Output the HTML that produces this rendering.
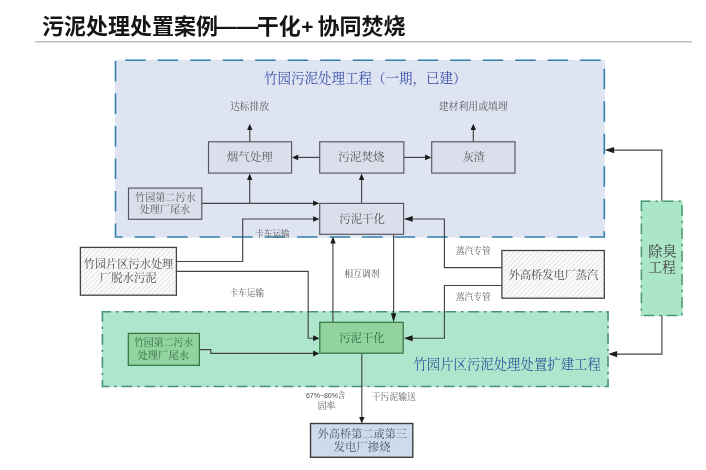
<!DOCTYPE html>
<html lang="zh"><head><meta charset="utf-8"><title>污泥处理处置案例——干化+协同焚烧</title>
<style>
html,body{margin:0;padding:0;background:#fff;}
body{width:706px;height:470px;position:relative;overflow:hidden;font-family:"Liberation Sans",sans-serif;}
.t{position:absolute;color:transparent;white-space:nowrap;line-height:1;font-family:"Liberation Sans",sans-serif;overflow:hidden;}
</style></head><body>
<svg width="706" height="470" viewBox="0 0 706 470" style="position:absolute;left:0;top:0;filter:blur(0.45px)">
<defs>
<pattern id="hb" width="3" height="3" patternUnits="userSpaceOnUse"><rect width="3" height="3" fill="#dee1ee"/><path d="M0 3L3 0M0 0L3 3" stroke="#d6d9e6" stroke-width="0.6"/></pattern>
<pattern id="hw" width="4.85" height="4.85" patternUnits="userSpaceOnUse"><rect width="4.85" height="4.85" fill="#fefefe"/><path d="M-1 1L1 -1M0 4.85L4.85 0M3.85 5.85L5.85 3.85" stroke="#e0e0e0" stroke-width="1.1"/></pattern>
<pattern id="hx" width="3" height="3" patternUnits="userSpaceOnUse"><rect width="3" height="3" fill="#d2dfee"/><path d="M0 3L3 0M0 0L3 3" stroke="#c5d3e6" stroke-width="0.6"/></pattern>
</defs>
<g font-family="'Liberation Sans','Noto Sans CJK SC',sans-serif" font-weight="bold" fill="#151515">
<text x="42" y="34" font-size="22">污泥处理处置案例</text>
<text x="214.4" y="34" font-size="22">——</text>
<text x="256.8" y="34" font-size="22">干化</text>
<text x="307.3" y="34" font-size="21" text-anchor="middle">+</text>
<text x="317.4" y="34" font-size="22">协同焚烧</text>
</g>
<rect x="35" y="41.3" width="657" height="1.1" fill="#a9a9a9"/>
<rect x="115" y="59.8" width="489.8" height="177.7" fill="#dfe4f3"/>
<rect x="115.5" y="60.3" width="488.8" height="176.7" fill="none" stroke="#357fab" stroke-width="1.6" stroke-dasharray="20.5 12" stroke-dashoffset="22.8"/>
<rect x="101.9" y="311.3" width="506.6" height="75.7" fill="#aee6cd"/>
<path d="M102.4 311.8H608V386.5H102.4" fill="none" stroke="#47937a" stroke-width="1.6" stroke-dasharray="10.8 4.9 2.4 4.9" stroke-dashoffset="2.1"/>
<path d="M102.4 311V387.3" fill="none" stroke="#47937a" stroke-width="1.6" stroke-dasharray="10.8 4.9 2.4 4.9" stroke-dashoffset="0"/>
<rect x="640.8" y="200.7" width="41.8" height="115.3" fill="#ace6c9"/>
<path d="M641.4 201.3H682V315.4H641.4" fill="none" stroke="#479a7a" stroke-width="1.5" stroke-dasharray="10.8 4.9 2.4 4.9" stroke-dashoffset="1.6"/>
<path d="M641.4 200.55V316.15" fill="none" stroke="#479a7a" stroke-width="1.5" stroke-dasharray="10.8 4.9 2.4 4.9" stroke-dashoffset="0"/>
<path d="M661.8 201.3 L661.8 150.1 L611.3 150.1" fill="none" stroke="#444" stroke-width="1.15"/>
<polygon points="604.7,150.1 614.1,146.9 614.1,153.3" fill="#1c1c1c"/>
<path d="M661.9 315.4 L661.9 354.1 L615 354.1" fill="none" stroke="#444" stroke-width="1.15"/>
<polygon points="608.1,354.1 617.1,351 617.1,357.2" fill="#1c1c1c"/>
<path d="M249.8 141.8 L249.8 129" fill="none" stroke="#444" stroke-width="1.15"/>
<polygon points="249.8,123.8 247.1,130 252.5,130" fill="#1c1c1c"/>
<path d="M473.3 141.8 L473.3 129" fill="none" stroke="#444" stroke-width="1.15"/>
<polygon points="473.3,123.8 470.6,130 476,130" fill="#1c1c1c"/>
<path d="M319.7 157.4 L296.6 157.4" fill="none" stroke="#444" stroke-width="1.15"/>
<polygon points="292,157.4 298.2,154.6 298.2,160.2" fill="#1c1c1c"/>
<path d="M403.8 157.4 L426.7 157.4" fill="none" stroke="#444" stroke-width="1.15"/>
<polygon points="431.3,157.4 425.1,154.6 425.1,160.2" fill="#1c1c1c"/>
<path d="M361.6 203.4 L361.6 178.1" fill="none" stroke="#444" stroke-width="1.15"/>
<polygon points="361.6,173.5 358.9,180 364.3,180" fill="#1c1c1c"/>
<path d="M201.8 203.3 L314.7 203.3" fill="none" stroke="#444" stroke-width="1.15"/>
<polygon points="319.3,203.3 313.1,200.5 313.1,206.1" fill="#1c1c1c"/>
<path d="M249.7 203.3 L249.7 178.1" fill="none" stroke="#444" stroke-width="1.15"/>
<polygon points="249.7,173.5 247,180 252.4,180" fill="#1c1c1c"/>
<path d="M176.4 261.5 L242.7 261.5 L242.7 219 L314.7 219" fill="none" stroke="#444" stroke-width="1.15"/>
<polygon points="319.3,219 313.1,216.2 313.1,221.8" fill="#1c1c1c"/>
<path d="M176.4 271.4 L308.2 271.4 L308.2 338.2 L314.8 338.2" fill="none" stroke="#444" stroke-width="1.15"/>
<polygon points="319.4,338.2 313.1,335.2 313.1,341.2" fill="#1c1c1c"/>
<path d="M199.4 349.6 L210.8 349.6 L210.8 353.4 L314.8 353.4" fill="none" stroke="#444" stroke-width="1.15"/>
<polygon points="319.4,353.4 313.1,350.4 313.1,356.4" fill="#1c1c1c"/>
<path d="M332.9 322.3 L332.9 241" fill="none" stroke="#444" stroke-width="1.15"/>
<polygon points="333,236.3 330.3,243.5 335.7,243.5" fill="#1c1c1c"/>
<path d="M393.6 234.3 L393.6 315" fill="none" stroke="#444" stroke-width="1.15"/>
<polygon points="393.6,322.2 390.9,313.2 396.3,313.2" fill="#1c1c1c"/>
<path d="M501.9 267.6 L444.4 267.6 L444.4 219 L408.6 219" fill="none" stroke="#444" stroke-width="1.15"/>
<polygon points="403.8,218.9 412.7,216 412.7,221.8" fill="#1c1c1c"/>
<path d="M501.9 285.5 L444.4 285.5 L444.4 338.2 L408.2 338.2" fill="none" stroke="#444" stroke-width="1.15"/>
<polygon points="403.9,338.2 412.6,335.2 412.6,341.2" fill="#1c1c1c"/>
<path d="M361.8 353.2 L361.8 418" fill="none" stroke="#444" stroke-width="1.15"/>
<polygon points="361.8,423.4 359.1,417 364.5,417" fill="#1c1c1c"/>
<rect x="208.5" y="141.8" width="83.1" height="31.3" fill="url(#hb)" stroke="#55555e" stroke-width="1.15"/>
<rect x="319.7" y="141.8" width="84.1" height="31.3" fill="url(#hb)" stroke="#55555e" stroke-width="1.15"/>
<rect x="431.7" y="141.8" width="83.3" height="31.3" fill="url(#hb)" stroke="#55555e" stroke-width="1.15"/>
<rect x="128.5" y="188.1" width="73.3" height="31.2" fill="url(#hb)" stroke="#55555e" stroke-width="1.15"/>
<rect x="319.7" y="203.4" width="83.9" height="30.9" fill="url(#hb)" stroke="#55555e" stroke-width="1.15"/>
<rect x="80.4" y="247.4" width="96" height="47.8" fill="url(#hw)" stroke="#444" stroke-width="1.3"/>
<rect x="501.9" y="250.5" width="102.4" height="47.7" fill="url(#hw)" stroke="#444" stroke-width="1.3"/>
<rect x="319.8" y="322.3" width="83.4" height="30.9" fill="#93d39f" stroke="#2f7443" stroke-width="1.2"/>
<rect x="128.3" y="333.4" width="71.1" height="31.9" fill="#93d39f" stroke="#2f7443" stroke-width="1.2"/>
<rect x="310.5" y="423.5" width="102.3" height="33.8" fill="url(#hx)" stroke="#3c3c3c" stroke-width="1.4"/>
<g font-family="'Liberation Serif','Noto Serif CJK SC',serif">
<text x="264" y="83.1" font-size="13.5" fill="#3a4fa6">竹园污泥处理工程（一期，已建）</text>
<text x="230.2" y="109.6" font-size="9.7" fill="#5a5a5a">达标排放</text>
<text x="438.7" y="109.8" font-size="9.9" fill="#5a5a5a">建材利用或填埋</text>
<text x="226.8" y="161.4" font-size="11.5" fill="#5a5a5a">烟气处理</text>
<text x="338.2" y="161.4" font-size="11.6" fill="#5a5a5a">污泥焚烧</text>
<text x="462.7" y="161.3" font-size="11" fill="#5a5a5a">灰渣</text>
<text x="135.1" y="200.8" font-size="10.1" fill="#5a5a5a">竹园第二污水</text>
<text x="139.7" y="213.1" font-size="10.1" fill="#5a5a5a">处理厂尾水</text>
<text x="339.3" y="222.9" font-size="11.4" fill="#5a5a5a">污泥干化</text>
<text x="255.2" y="237.1" font-size="8.6" fill="#5a5a5a">卡车运输</text>
<text x="229.7" y="296.3" font-size="8.6" fill="#5a5a5a">卡车运输</text>
<text x="83.8" y="268" font-size="11.2" fill="#4a4a4a">竹园片区污水处理</text>
<text x="99.8" y="282.1" font-size="11.4" fill="#4a4a4a">厂脱水污泥</text>
<text x="508.7" y="278.6" font-size="11.2" fill="#4a4a4a">外高桥发电厂蒸汽</text>
<text x="455.7" y="253.9" font-size="8.8" fill="#5a5a5a">蒸汽专管</text>
<text x="455.7" y="299.7" font-size="8.8" fill="#5a5a5a">蒸汽专管</text>
<text x="344.2" y="277.1" font-size="8.9" fill="#5a5a5a">相互调剂</text>
<text x="339.3" y="341.7" font-size="11.3" fill="#2f6b3f">污泥干化</text>
<text x="133.9" y="346.2" font-size="9.9" fill="#2f6b3f">竹园第二污水</text>
<text x="137.5" y="358.6" font-size="10.3" fill="#2f6b3f">处理厂尾水</text>
<text x="413.4" y="369.4" font-size="13.4" fill="#2c5b9e">竹园片区污泥处理处置扩建工程</text>
<text x="648.2" y="255.5" font-size="14.2" fill="#3f3f3f">除臭</text>
<text x="648.2" y="271.7" font-size="13.8" fill="#3f3f3f">工程</text>
<text x="305.9" y="397.5" font-size="8" fill="#4a4a4a" font-family="'Liberation Sans','Noto Serif CJK SC',serif" textLength="39.1" lengthAdjust="spacingAndGlyphs">67%~80%含</text>
<text x="317.8" y="408.6" font-size="8.8" fill="#5a5a5a">固率</text>
<text x="371.8" y="399.8" font-size="8.8" fill="#5a5a5a">干污泥输送</text>
<text x="317.6" y="437.6" font-size="11.2" fill="#505868">外高桥第二或第三</text>
<text x="333.7" y="451.1" font-size="11.4" fill="#505868">发电厂掺烧</text>
</g>
</svg>

</body></html>
